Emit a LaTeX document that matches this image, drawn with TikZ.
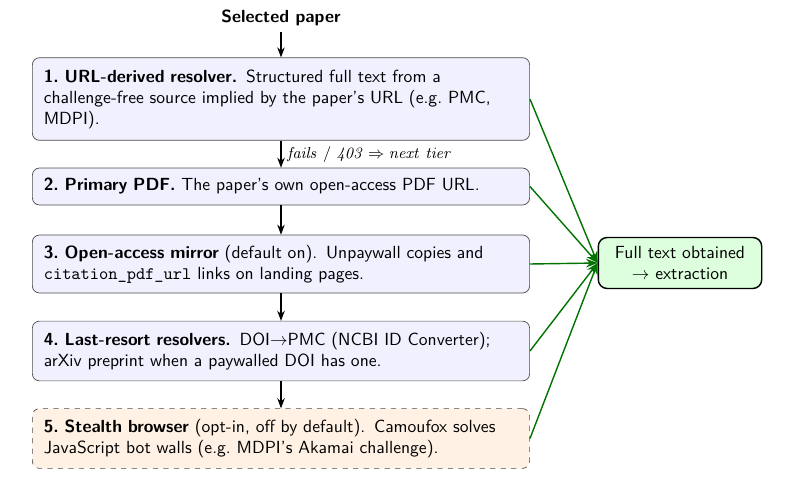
\documentclass[tikz,border=0pt]{standalone}
\usepackage{amsmath, amssymb}
\usetikzlibrary{arrows.meta}
\renewcommand{\familydefault}{\sfdefault}
\tikzset{
  tier/.style = {draw = black!70, rounded corners = 4pt, fill = blue!6, align = left,
                 text width = 270pt, minimum width = 283pt, inner sep = 5pt, font = \normalsize},
  stealth/.style = {tier, dashed, fill = orange!10},
  goal/.style = {draw, thick, rounded corners = 5pt, fill = green!13, align = center,
                 minimum width = 93pt, minimum height = 29pt},
  down/.style = {-{Stealth}, semithick},
  win/.style = {-{Stealth}, thick, green!45!black}
}
\begin{document}
\begin{tikzpicture}[x = 0.02cm, y = -0.02cm]
		\useasboundingbox (0, 0) rectangle (791, 496);
		%%%%%%%%%%%%%
		\node [font = \bfseries] (paper) at (281, 18) {Selected paper};
		\node [tier, minimum height = 47pt] (t1) at (281, 99) {\textbf{1.\ URL-derived resolver.} Structured full text from a challenge-free source implied by the paper's URL (e.g.\ PMC, MDPI).};
		\node [tier, minimum height = 21pt] (t2) at (281, 186.5) {\textbf{2.\ Primary PDF.} The paper's own open-access PDF URL.};
		\node [tier, minimum height = 33pt] (t3) at (281, 264) {\textbf{3.\ Open-access mirror} (default on). Unpaywall copies and \texttt{citation\_pdf\_url} links on landing pages.};
		\node [tier, minimum height = 34pt] (t4) at (281, 351) {\textbf{4.\ Last-resort resolvers.} DOI$\to$PMC (NCBI ID Converter); arXiv preprint when a paywalled DOI has one.};
		\node [stealth, minimum height = 34pt] (t5) at (281, 438.5) {\textbf{5.\ Stealth browser} (opt-in, off by default). Camoufox solves JavaScript bot walls (e.g.\ MDPI's Akamai challenge).};
		\node [goal] (done) at (680, 263) {Full text obtained\\$\to$ extraction};
		%%%%%%%%%%%%%
		\draw [down] (paper) to (t1);
		\draw [down] (t1) to node [right, font = \small] {$\mathit{fails\ /\ 403 \Rightarrow next\ tier}$} (t2);
		\draw [down] (t2) to (t3); \draw [down] (t3) to (t4); \draw [down] (t4) to (t5);
		\draw [win] (t1.east) to (done.west); \draw [win] (t2.east) to (done.west);
		\draw [win] (t3.east) to (done.west); \draw [win] (t4.east) to (done.west);
		\draw [win] (t5.east) to (done.west);
\end{tikzpicture}
\end{document}
